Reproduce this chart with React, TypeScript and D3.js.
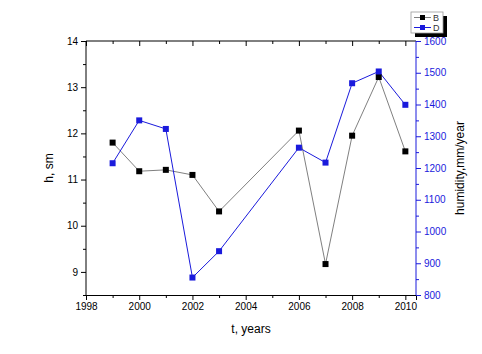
import React, { useEffect, useRef } from 'react'
import * as d3 from 'd3'

// years of observation
const years = [1999, 2000, 2001, 2002, 2003, 2006, 2007, 2008, 2009, 2010]
// B: h, sm (left axis)
const seriesB = [11.8, 11.18, 11.21, 11.1, 10.31, 12.06, 9.17, 11.95, 13.22, 11.61]
// D: humidity, mm/year (right axis)
const seriesD = [1215, 1350, 1323, 855, 938, 1264, 1217, 1467, 1504, 1399]

const xTicks = [1998, 2000, 2002, 2004, 2006, 2008, 2010]
const leftTicks = [9, 10, 11, 12, 13, 14]
const rightTicks = [800, 900, 1000, 1100, 1200, 1300, 1400, 1500, 1600]

const BLUE = '#1a1adc'
const FONT = '"Liberation Sans", Arial, sans-serif'

const App: React.FC = () => {
  const ref = useRef<SVGSVGElement | null>(null)

  useEffect(() => {
    if (!ref.current) return
    const svgSel = d3.select(ref.current)
    svgSel.selectAll('*').remove()

    const left = 86, right = 416, top = 41, bottom = 295

    const x = d3.scaleLinear().domain([1998, 2010.4]).range([left, right])
    const yL = d3.scaleLinear().domain([8.5, 14]).range([bottom, top])
    const yR = d3.scaleLinear().domain([800, 1600]).range([bottom, top])

    const g = svgSel.append('g').style('font-family', FONT)

    // bottom axis
    const bx = g.append('g').attr('transform', `translate(0,${bottom})`)
      .call(d3.axisBottom(x).tickValues(xTicks).tickFormat(d3.format('d')).tickSize(5).tickPadding(3))
    bx.select('.domain').attr('stroke', '#000')
    bx.selectAll('text').style('font-size', '10px').attr('fill', '#000')
    g.append('g').attr('transform', `translate(0,${bottom})`)
      .call(d3.axisBottom(x).tickValues(d3.range(1999, 2011, 2)).tickFormat(() => '').tickSize(3))
      .select('.domain').remove()

    // top border with inward ticks
    g.append('line').attr('x1', left).attr('x2', right).attr('y1', top).attr('y2', top).attr('stroke', '#000')
    g.append('g').attr('transform', `translate(0,${top})`)
      .call(d3.axisBottom(x).tickValues(xTicks).tickFormat(() => '').tickSize(5))
      .select('.domain').remove()
    g.append('g').attr('transform', `translate(0,${top})`)
      .call(d3.axisBottom(x).tickValues(d3.range(1999, 2011, 2)).tickFormat(() => '').tickSize(3))
      .select('.domain').remove()

    // left axis
    const la = g.append('g').attr('transform', `translate(${left},0)`)
      .call(d3.axisLeft(yL).tickValues(leftTicks).tickFormat(d3.format('d')).tickSize(5).tickPadding(3))
    la.select('.domain').attr('d', `M0,${top}V${bottom}`)
    la.selectAll('text').style('font-size', '10px').attr('fill', '#000')
    g.append('g').attr('transform', `translate(${left},0)`)
      .call(d3.axisLeft(yL).tickValues(d3.range(8.5, 14, 1)).tickFormat(() => '').tickSize(3))
      .select('.domain').remove()

    // right axis (blue)
    const ra = g.append('g').attr('transform', `translate(${right},0)`)
      .call(d3.axisRight(yR).tickValues(rightTicks).tickFormat(d3.format('d')).tickSize(5).tickPadding(3))
    ra.select('.domain').attr('stroke', BLUE).attr('d', `M0,${top}V${bottom}`)
    ra.selectAll('line').attr('stroke', BLUE)
    ra.selectAll('text').style('font-size', '10px').attr('fill', BLUE)
    const rm = g.append('g').attr('transform', `translate(${right},0)`)
      .call(d3.axisRight(yR).tickValues(d3.range(850, 1600, 100)).tickFormat(() => '').tickSize(3))
    rm.select('.domain').remove()
    rm.selectAll('line').attr('stroke', BLUE)

    // lines
    const lineB = d3.line<number>().x((_, i) => x(years[i])).y(d => yL(d))
    const lineD = d3.line<number>().x((_, i) => x(years[i])).y(d => yR(d))
    g.append('path').attr('d', lineB(seriesB)).attr('fill', 'none').attr('stroke', '#808080').attr('stroke-width', 1)
    g.append('path').attr('d', lineD(seriesD)).attr('fill', 'none').attr('stroke', BLUE).attr('stroke-width', 1)

    const ms = 6
    g.selectAll('.mB').data(seriesB).join('rect')
      .attr('x', (_, i) => x(years[i]) - ms / 2).attr('y', d => yL(d) - ms / 2)
      .attr('width', ms).attr('height', ms).attr('fill', '#000')
    g.selectAll('.mD').data(seriesD).join('rect')
      .attr('x', (_, i) => x(years[i]) - ms / 2).attr('y', d => yR(d) - ms / 2)
      .attr('width', ms).attr('height', ms).attr('fill', BLUE)

    // axis titles
    g.append('text').attr('x', (left + right) / 2).attr('y', 333).attr('text-anchor', 'middle')
      .style('font-size', '12px').text('t, years')
    g.append('text').attr('transform', `translate(53,${(top + bottom) / 2}) rotate(-90)`)
      .attr('text-anchor', 'middle').style('font-size', '12px').text('h, sm')
    g.append('text').attr('transform', `translate(464,${(top + bottom) / 2}) rotate(-90)`)
      .attr('text-anchor', 'middle').style('font-size', '12px').text('humidity,mm/year')

    // legend
    const lg = g.append('g').attr('transform', 'translate(411,12)')
    lg.append('rect').attr('x', 4).attr('y', 4).attr('width', 32).attr('height', 21).attr('fill', '#000')
    lg.append('rect').attr('x', 0).attr('y', 0).attr('width', 32).attr('height', 21)
      .attr('fill', '#fff').attr('stroke', '#999').attr('stroke-width', 0.8)
    const entries = [{ n: 'B', c: '#000', l: '#808080' }, { n: 'D', c: BLUE, l: BLUE }]
    entries.forEach((e, i) => {
      const yy = 5.5 + i * 10
      lg.append('line').attr('x1', 3).attr('x2', 20).attr('y1', yy).attr('y2', yy).attr('stroke', e.l)
      lg.append('rect').attr('x', 9).attr('y', yy - 2.5).attr('width', 5).attr('height', 5).attr('fill', e.c)
      lg.append('text').attr('x', 22).attr('y', yy + 3.5).style('font-size', '9px').attr('fill', '#333').text(e.n)
    })
  }, [])

  return (
    <svg ref={ref} width={482} height={354} style={{ position: 'absolute', left: 0, top: 0, background: '#fff' }} />
  )
}

export default App
